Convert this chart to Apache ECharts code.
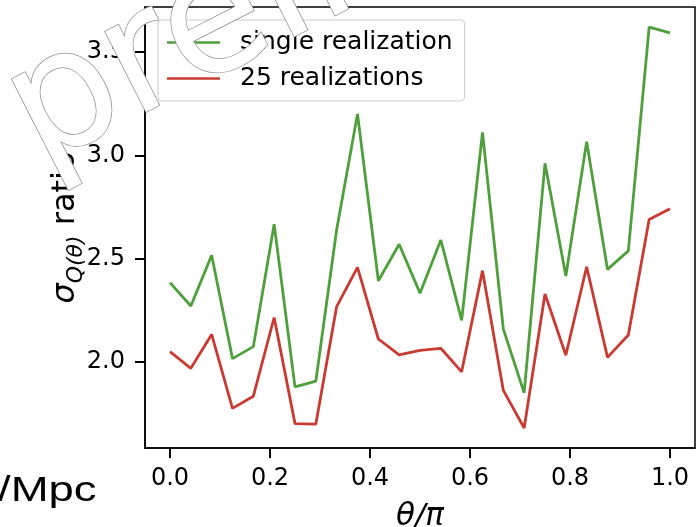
<!DOCTYPE html>
<html>
<head>
<meta charset="utf-8">
<script src="https://cdn.jsdelivr.net/npm/echarts@6/dist/echarts.min.js"></script>
<style>
  html, body { margin: 0; padding: 0; background: #fff; }
  #chart { width: 698px; height: 527px; }
</style>
</head>
<body>
<div id="chart"></div>
<script>
// Angle bins, theta / pi
const theta = [0, 0.0417, 0.0833, 0.125, 0.1667, 0.2083, 0.25, 0.2917, 0.3333, 0.375,
  0.4167, 0.4583, 0.5, 0.5417, 0.5833, 0.625, 0.6667, 0.7083, 0.75, 0.7917,
  0.8333, 0.875, 0.9167, 0.9583, 1.0];

// sigma_Q(theta) ratio for one realization
const singleRealization = [2.384, 2.271, 2.517, 2.016, 2.074, 2.667, 1.879, 1.907, 2.640, 3.201,
  2.393, 2.570, 2.333, 2.590, 2.201, 3.112, 2.159, 1.850, 2.962, 2.416,
  3.067, 2.448, 2.538, 3.622, 3.594];

// sigma_Q(theta) ratio averaged over 25 realizations
const realizations25 = [2.050, 1.969, 2.133, 1.775, 1.834, 2.215, 1.701, 1.699, 2.268, 2.458,
  2.111, 2.034, 2.056, 2.066, 1.952, 2.442, 1.862, 1.680, 2.329, 2.032,
  2.461, 2.022, 2.130, 2.690, 2.742];

const xTicks = [0, 0.2, 0.4, 0.6, 0.8, 1.0];
const yTicks = [2.0, 2.5, 3.0, 3.5];

const seriesNames = ['single realization', '25 realizations'];

const FONT = 'DejaVu Sans';
const GREEN = '#4f9f3c';
const RED = '#c93b32';

const pairs = (ys) => theta.map((t, i) => [t, ys[i]]);

const chart = echarts.init(document.getElementById('chart'), null, { renderer: 'canvas' });

const spine = { show: true, onZero: false, lineStyle: { color: '#000', width: 1.5 } };
const tick = { show: true, length: 10, lineStyle: { color: '#000', width: 2 } };

chart.setOption({
  animation: false,
  backgroundColor: '#ffffff',
  grid: {
    left: 145, right: 3, top: 7, bottom: 79,
    outerBoundsMode: 'none', containLabel: false,
    show: true, borderColor: '#000', borderWidth: 1.5, backgroundColor: 'transparent'
  },
  xAxis: {
    type: 'value', min: -0.05, max: 1.05,
    splitLine: { show: false },
    axisLine: spine,
    axisTick: Object.assign({ customValues: xTicks }, tick),
    axisLabel: {
      customValues: xTicks, margin: 19,
      formatter: (v) => v.toFixed(1),
      color: '#000', fontFamily: FONT, fontSize: 24
    },
    name: 'θ/π', nameLocation: 'middle', nameGap: 53,
    nameTextStyle: { fontFamily: FONT, fontStyle: 'italic', fontSize: 31, color: '#000' }
  },
  yAxis: {
    type: 'value', min: 1.583, max: 3.719,
    splitLine: { show: false },
    axisLine: spine,
    axisTick: Object.assign({ customValues: yTicks }, tick),
    axisLabel: {
      customValues: yTicks, margin: 20,
      formatter: (v) => v.toFixed(1),
      color: '#000', fontFamily: FONT, fontSize: 24
    },
    name: '{s|σ}{sub|Q(θ)}{r| ratio}',
    nameLocation: 'middle', nameRotate: 90, nameGap: 58, nameMoveOverlap: false,
    nameTextStyle: {
      color: '#000',
      rich: {
        s: { fontFamily: FONT, fontStyle: 'italic', fontSize: 32, lineHeight: 42, verticalAlign: 'middle' },
        sub: { fontFamily: FONT, fontStyle: 'italic', fontSize: 22, lineHeight: 26, verticalAlign: 'bottom' },
        r: { fontFamily: FONT, fontSize: 32, lineHeight: 42, verticalAlign: 'middle' }
      }
    }
  },
  legend: {
    orient: 'vertical', left: 158, top: 20,
    data: seriesNames,
    icon: 'rect', itemWidth: 53, itemHeight: 2.5, itemGap: 11,
    padding: [10, 12, 10, 9],
    backgroundColor: 'rgba(255,255,255,0.8)', borderColor: '#cccccc', borderWidth: 1, borderRadius: 4,
    textStyle: { fontFamily: FONT, fontSize: 25, color: '#000', padding: [0, 0, 0, 15] }
  },
  series: [
    {
      name: seriesNames[0], type: 'line', data: pairs(singleRealization),
      showSymbol: false, symbol: 'none', color: GREEN,
      lineStyle: { color: GREEN, width: 2.8 }
    },
    {
      name: seriesNames[1], type: 'line', data: pairs(realizations25),
      showSymbol: false, symbol: 'none', color: RED,
      lineStyle: { color: RED, width: 2.8 }
    }
  ],
  graphic: [
    {
      // label of the neighbouring panel, cut at the left edge
      type: 'text', x: -2, y: 474, scaleX: 1.3, z: 50,
      style: { text: '/Mpc', font: '35px "Liberation Sans"', fill: '#000', verticalAlign: 'top' }
    },
    {
      // outlined "preliminary" stamp across the top left
      type: 'text', x: 20, y: 128, rotation: 27 * Math.PI / 180, z: 100,
      style: {
        text: 'preliminary', font: '165px "DejaVu Sans"', fill: '#ffffff',
        stroke: '#8e8e8e', lineWidth: 1.5, verticalAlign: 'middle', align: 'left',
        shadowBlur: 4, shadowColor: 'rgba(0,0,0,0.35)', shadowOffsetX: 2, shadowOffsetY: 2
      }
    }
  ]
});
</script>
</body>
</html>
